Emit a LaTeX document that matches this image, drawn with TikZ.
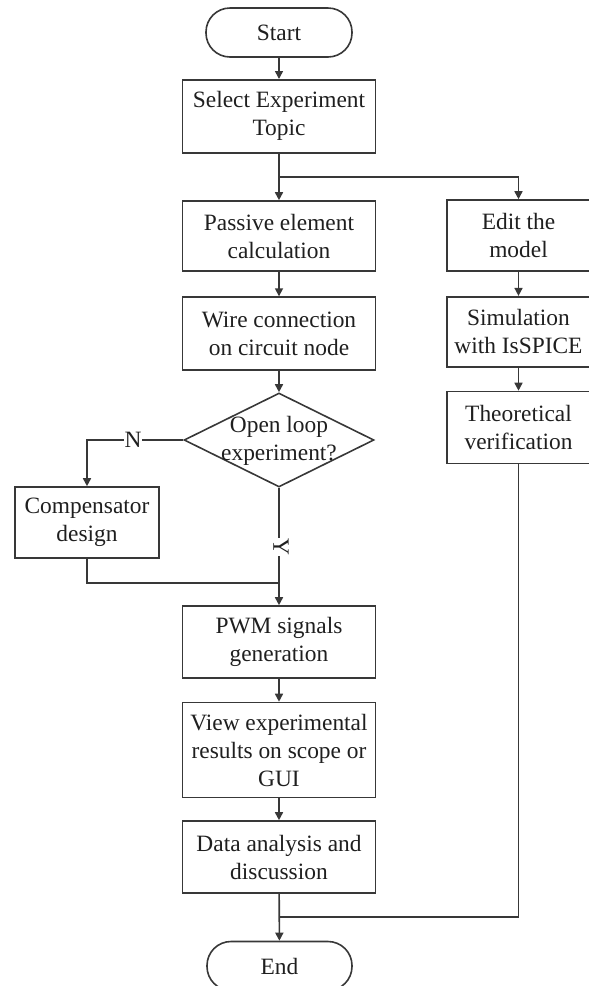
\documentclass[tikz,border=0pt]{standalone}
\usepackage{fontspec}
\setmainfont{Liberation Serif}
\usetikzlibrary{arrows.meta,shapes.geometric}

\tikzset{
  line/.style={draw=black!78, line width=1.6pt},
  flow/.style={line, -{Triangle[length=8pt,width=8pt]}},
  terminal/.style={line, rectangle, rounded corners=24pt, inner sep=0pt},
  procbox/.style={line, rectangle, inner sep=0pt, align=center},
  decision/.style={line, diamond, inner sep=0pt},
  txt/.style={font=\fontsize{23.4}{28}\selectfont, text=black!88},
  lbl/.style={txt, fill=white, inner sep=1pt}
}

\begin{document}
\begin{tikzpicture}[x=1pt, y=-1pt, every node/.style={txt}]
\useasboundingbox (0,0) rectangle (589,986);

% main column
\node[terminal, minimum width=146pt, minimum height=49pt] (start) at (279,32.5) {Start};
\node[procbox, minimum width=193pt, minimum height=73pt] (sel) at (279,116.3) {Select Experiment\\Topic};
\node[procbox, minimum width=193pt, minimum height=70pt] (pas) at (279,236) {Passive element\\calculation};
\node[procbox, minimum width=193pt, minimum height=73pt] (wire) at (279,333.6) {Wire connection\\on circuit node};
\node[decision, minimum width=190pt, minimum height=94pt] (dia) at (279,440) {};
\node[align=center] (diatext) at (279,441) {Open loop\\experiment?};
\node[procbox, minimum width=144pt, minimum height=71pt] (comp) at (87,522.5) {Compensator\\design};
\node[procbox, minimum width=193pt, minimum height=72pt] (pwm) at (279,642) {PWM signals\\generation};
\node[procbox, minimum width=193pt, minimum height=95pt] (view) at (279,750) {View experimental\\results on scope or\\GUI};
\node[procbox, minimum width=193pt, minimum height=72pt] (data) at (279,857) {Data analysis and\\discussion};
\node[terminal, minimum width=145pt, minimum height=49pt] (end) at (279.5,966) {End};

% simulation column
\node[procbox, minimum width=143pt, minimum height=71pt] (edit) at (518.5,235.5) {Edit the\\model};
\node[procbox, minimum width=143pt, minimum height=70pt] (sim) at (518.5,331.7) {Simulation\\with IsSPICE};
\node[procbox, minimum width=143pt, minimum height=72pt] (theo) at (518.5,427.5) {Theoretical\\verification};

% junction points
\coordinate (split) at (279,177);
\coordinate (join) at (279,583);
\coordinate (merge) at (279,917);

% connectors
\draw[flow] (start) -- (sel);
\draw[line] (sel) -- (split);
\draw[flow] (split) -- (pas);
\draw[flow] (split) -| (edit);
\draw[flow] (pas) -- (wire);
\draw[flow] (wire) -- (dia);
\draw[flow] (dia.west) -| (comp.north);
\node[lbl] (nlbl) at (133,440) {N};
\draw[flow] (dia.south) -- (pwm.north);
\node[lbl, rotate=-90] (ylbl) at (281,547) {Y};
\draw[line] (comp.south) |- (join);
\draw[flow] (pwm) -- (view);
\draw[flow] (view) -- (data);
\draw[flow] (data) -- (end);
\draw[flow] (edit) -- (sim);
\draw[flow] (sim) -- (theo);
\draw[line] (theo.south) |- (merge);
\end{tikzpicture}
\end{document}
